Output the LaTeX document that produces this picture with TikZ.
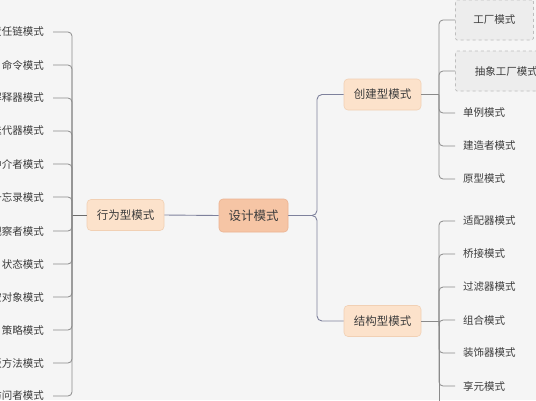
\documentclass[tikz,border=0pt]{standalone}
\usepackage{fontspec}
\newfontfamily\cjk{Noto Sans CJK SC}
\usetikzlibrary{positioning}
\definecolor{paper}{HTML}{F5F5F5}
\definecolor{rootfill}{HTML}{F6C5A5}
\definecolor{rootborder}{HTML}{EBB392}
\definecolor{groupfill}{HTML}{FCE2CB}
\definecolor{groupborder}{HTML}{F1D0B4}
\definecolor{leaftext}{HTML}{3C3C3C}
\definecolor{trunkcolor}{HTML}{7E819C}
\definecolor{twigcolor}{HTML}{8A8A8A}
\definecolor{dashgray}{HTML}{BDBDBD}
\definecolor{dashfill}{HTML}{EDEDED}

\begin{document}
\begin{tikzpicture}[
    x=1pt, y=-1pt,
    every node/.style={font=\cjk\fontsize{10.5}{12}\selectfont, text=leaftext},
    root/.style={draw=rootborder, fill=rootfill, rounded corners=4pt, line width=0.6pt, minimum width=69pt, minimum height=33pt, font=\cjk\fontsize{12.5}{14}\selectfont},
    group/.style={draw=groupborder, fill=groupfill, rounded corners=4pt, line width=0.6pt, minimum width=77pt, minimum height=31pt, font=\cjk\fontsize{11.5}{14}\selectfont},
    leafL/.style={anchor=east, inner xsep=9pt},
    leafR/.style={anchor=west, inner xsep=8pt},
    dashbox/.style={anchor=west, draw=dashgray, dashed, fill=dashfill, rounded corners=1.5pt, minimum height=40pt, line width=0.8pt},
    trunk/.style={draw=trunkcolor, line width=0.9pt, rounded corners=5pt},
    twig/.style={draw=twigcolor, line width=0.8pt, rounded corners=4pt}
]

  % 1. Page
  \path[use as bounding box] (0,0) rectangle (536,400);
  \clip (0,0) rectangle (536,400);
  \fill[paper] (0,0) rectangle (536,400);

  % 2. Root and the three groups
  \node[root] (design) at (253.5, 215.5) {设计模式};
  \node[group] (behave) at (125.5, 215) {行为型模式};
  \node[group] (create) at (382.5, 94.5) {创建型模式};
  \node[group] (struct) at (382.5, 321) {结构型模式};

  % 3. Behaviour patterns (left, cut by the page edge)
  \node[leafL] (chain) at (53, 32) {责任链模式};
  \node[leafL] (command) at (53, 65) {命令模式};
  \node[leafL] (interp) at (53, 98) {解释器模式};
  \node[leafL] (iter) at (53, 131) {迭代器模式};
  \node[leafL] (mediator) at (53, 164) {中介者模式};
  \node[leafL] (memento) at (53, 197) {备忘录模式};
  \node[leafL] (observer) at (53, 231) {观察者模式};
  \node[leafL] (state) at (53, 264) {状态模式};
  \node[leafL] (nullobj) at (53, 297) {空对象模式};
  \node[leafL] (strategy) at (53, 330) {策略模式};
  \node[leafL] (template) at (53, 363) {模板方法模式};
  \node[leafL] (visitor) at (53, 396) {访问者模式};

  % 4. Creation patterns (right, top)
  \node[dashbox, minimum width=78pt] (factory) at (455, 20) {工厂模式};
  \node[dashbox, minimum width=102pt] (absfactory) at (455, 71) {抽象工厂模式};
  \node[leafR] (single) at (455, 113) {单例模式};
  \node[leafR] (builder) at (455, 146) {建造者模式};
  \node[leafR] (proto) at (455, 179) {原型模式};

  % 5. Structure patterns (right, bottom)
  \node[leafR] (adapter) at (455, 221) {适配器模式};
  \node[leafR] (bridge) at (455, 254) {桥接模式};
  \node[leafR] (filter) at (455, 287) {过滤器模式};
  \node[leafR] (composite) at (455, 320) {组合模式};
  \node[leafR] (decorator) at (455, 353) {装饰器模式};
  \node[leafR] (flyweight) at (455, 386) {享元模式};

  % 6. Connectors
  \coordinate (mbus) at (317, 215.5);
  \coordinate (lbus) at (72, 215);
  \coordinate (cbus) at (439, 94.5);
  \coordinate (sbus) at (439, 321);
  \coordinate (send) at (439, 412);

  \draw[trunk] (design.west) -- (behave.east);
  \draw[trunk] (design.east) -- (mbus) |- (create.west);
  \draw[trunk] (design.east) -- (mbus) |- (struct.west);

  \draw[twig, draw=gray!85!black, line width=1pt] (behave.west) -- (lbus);
  \foreach \leaf in {chain, command, interp, iter, mediator, memento, observer, state, nullobj, strategy, template, visitor}
    \draw[twig] (lbus) |- (\leaf.east);

  \draw[twig] (create.east) -- (cbus);
  \foreach \leaf in {factory, absfactory, single, builder, proto}
    \draw[twig] (cbus) |- (\leaf.west);

  \draw[twig] (struct.east) -- (sbus);
  \draw[twig] (sbus) -- (send);
  \foreach \leaf in {adapter, bridge, filter, composite, decorator, flyweight}
    \draw[twig] (sbus) |- (\leaf.west);

\end{tikzpicture}
\end{document}
